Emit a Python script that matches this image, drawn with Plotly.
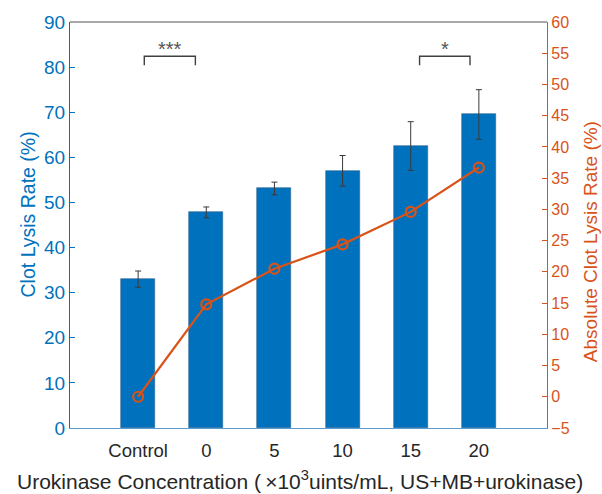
import plotly.graph_objects as go

# Urokinase dose groups and measured clot lysis
categories = ["Control", "0", "5", "10", "15", "20"]
lysis_rate = [33.0, 47.8, 53.1, 57.0, 62.5, 69.5]        # Clot Lysis Rate (%)
lysis_err = [1.8, 1.2, 1.4, 3.4, 5.4, 5.5]               # standard deviation
absolute_rate = [0.0, 14.8, 20.5, 24.4, 29.6, 36.7]      # Absolute Clot Lysis Rate (%)

# significance brackets: (left x, right x, label)
sig_pairs = [(1.09, 1.84, "***"), (5.13, 5.87, "*")]
sig_top, sig_leg = 82.4, 80.4

BLUE = "#0072BD"
ORANGE = "#D95319"
FONT = "Arial, Liberation Sans, sans-serif"

xpos = list(range(1, len(categories) + 1))

fig = go.Figure()
fig.add_trace(go.Bar(
    x=xpos, y=lysis_rate, width=0.5,
    marker=dict(color=BLUE, line=dict(width=0.6, color="#2c5f8f")),
    error_y=dict(type="data", array=lysis_err, color="#3a3a3a", thickness=1, width=3),
    yaxis="y", showlegend=False,
))
fig.add_trace(go.Scatter(
    x=xpos, y=absolute_rate, mode="lines+markers",
    line=dict(color=ORANGE, width=2.2),
    marker=dict(symbol="circle-open", size=10, color=ORANGE, line=dict(width=2.2, color=ORANGE)),
    yaxis="y2", showlegend=False,
))

shapes = []
annotations = []
for x0, x1, lab in sig_pairs:
    shapes.append(dict(type="path", xref="x", yref="y",
                       path=f"M {x0},{sig_leg} L {x0},{sig_top} L {x1},{sig_top} L {x1},{sig_leg}",
                       line=dict(color="#404040", width=1.4)))
    annotations.append(dict(x=(x0 + x1) / 2, y=sig_top, xref="x", yref="y", text=lab,
                            showarrow=False, yanchor="bottom", yshift=-6,
                            font=dict(family=FONT, size=20, color="#555555")))

# box top edge
shapes.append(dict(type="line", xref="paper", yref="paper", x0=0, x1=1, y0=1, y1=1,
                   line=dict(color="#555555", width=1.2)))

annotations += [
    dict(text="Clot Lysis Rate (%)", xref="paper", yref="paper", x=-0.088, y=0.526,
         textangle=-90, showarrow=False, xanchor="center", yanchor="middle",
         font=dict(family=FONT, size=19.5, color=BLUE)),
    dict(text="Absolute Clot Lysis Rate (%)", xref="paper", yref="paper", x=1.09, y=0.46,
         textangle=-90, showarrow=False, xanchor="center", yanchor="middle",
         font=dict(family=FONT, size=19, color=ORANGE)),
    dict(text="Urokinase Concentration (\u2009\u00d710<sup>3</sup>uints/mL, US+MB+urokinase)",
         xref="paper", yref="paper", x=0.482, y=-0.127, showarrow=False,
         xanchor="center", yanchor="middle",
         font=dict(family=FONT, size=21, color="#262626")),
]

fig.update_layout(
    width=602, height=494,
    margin=dict(l=70, r=55, t=19.5, b=66),
    plot_bgcolor="white", paper_bgcolor="white",
    font=dict(family=FONT),
    xaxis=dict(range=[0, 7], tickvals=xpos, ticktext=categories,
               showgrid=False, zeroline=False, showline=True, linecolor="#5a9bd0", linewidth=1.2,
               ticks="", ticklabelstandoff=6, tickfont=dict(size=18.5, color="#262626")),
    yaxis=dict(range=[0, 90], dtick=10, showgrid=False, zeroline=False,
               showline=True, linecolor=BLUE, linewidth=1.2,
               ticks="inside", ticklen=5, tickcolor=BLUE,
               tickfont=dict(size=19, color=BLUE)),
    yaxis2=dict(range=[-5, 60], dtick=5, overlaying="y", side="right",
                showgrid=False, zeroline=False,
                showline=True, linecolor=ORANGE, linewidth=1.2,
                ticks="inside", ticklen=5, tickcolor=ORANGE,
                tickfont=dict(size=16, color=ORANGE)),
    shapes=shapes, annotations=annotations,
    bargap=0,
)

fig.write_html("out.html")
